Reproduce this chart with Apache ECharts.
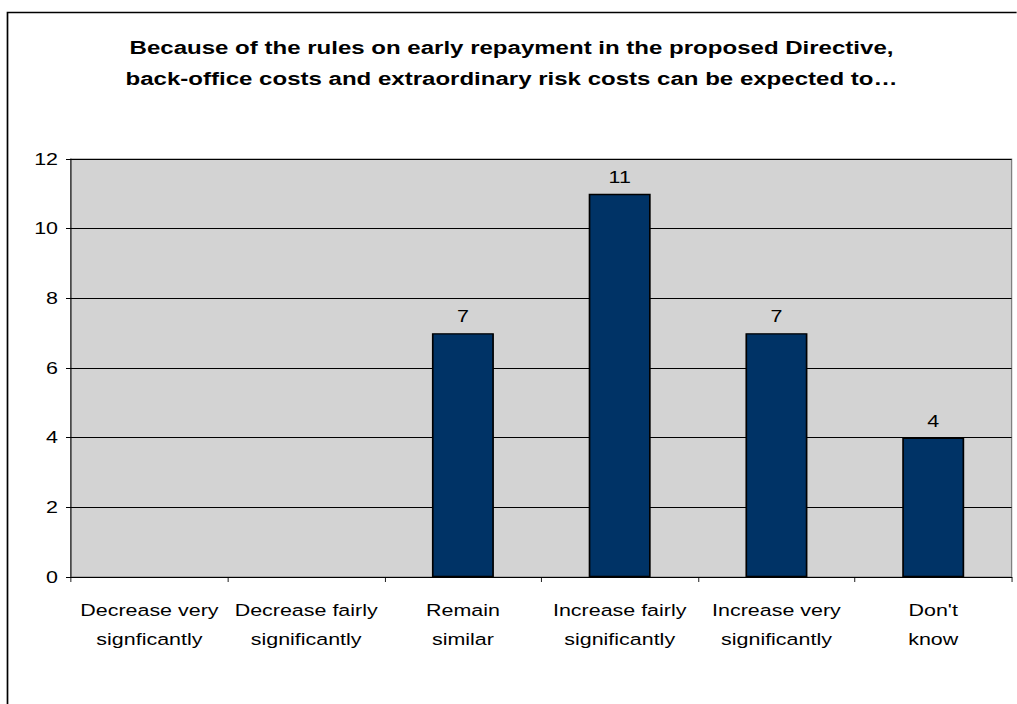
<!DOCTYPE html>
<html>
<head>
<meta charset="utf-8">
<script src="https://cdn.jsdelivr.net/npm/echarts@6/dist/echarts.min.js"></script>
<style>
html,body{margin:0;padding:0;background:#fff;overflow:hidden;}
#wrap{width:1017px;height:704px;overflow:hidden;position:relative;}
#c{width:782.3px;height:704px;transform:scaleX(1.3);transform-origin:0 0;}
</style>
</head>
<body>
<div id="wrap"><div id="c"></div></div>
<script>
const titleLines = ['Because of the rules on early repayment in the proposed Directive,', 'back-office costs and extraordinary risk costs can be expected to\u2026'];
const categories = ['Decrease very\nsignficantly', 'Decrease fairly\nsignificantly', 'Remain\nsimilar', 'Increase fairly\nsignificantly', 'Increase very\nsignificantly', "Don't\nknow"];
const values = [null, null, 7, 11, 7, 4];
const yTicks = { min: 0, max: 12, interval: 2 };

const SX = 1.3; // horizontal stretch of the reference picture
const chart = echarts.init(document.getElementById('c'), null, { renderer: 'svg' });
chart.setOption({
  animation: false,
  backgroundColor: '#ffffff',
  textStyle: { fontFamily: 'Liberation Sans, Arial, sans-serif' },
  title: {
    text: titleLines.join('\n'),
    left: 505 / SX, top: 27, textAlign: 'center',
    textStyle: { fontFamily: 'Liberation Sans, Arial, sans-serif', fontWeight: 'bold', fontSize: 18.5, lineHeight: 31, color: '#000' }
  },
  graphic: [{
    type: 'rect', shape: { x: 7.5 / SX, y: 12.5, width: 1200, height: 900 },
    style: { fill: 'none', stroke: '#000', lineWidth: 1.3 }, z: 100, silent: true
  }],
  grid: { left: 71 / SX, right: 5 / SX, top: 159, bottom: 127, show: true, backgroundColor: '#d3d3d3', borderColor: '#808080', borderWidth: 1 },
  xAxis: {
    type: 'category', data: categories,
    axisLine: { lineStyle: { color: '#000', width: 1 } },
    axisTick: { show: true, length: 5, lineStyle: { color: '#000', width: 1 / SX } },
    axisLabel: { color: '#000', fontSize: 16.5, lineHeight: 29, margin: 19, interval: 0 }
  },
  yAxis: {
    type: 'value', min: yTicks.min, max: yTicks.max, interval: yTicks.interval,
    axisLine: { show: true, lineStyle: { color: '#000', width: 1 / SX } },
    axisTick: { show: true, length: 5 / SX, lineStyle: { color: '#000' } },
    axisLabel: { color: '#000', fontSize: 16.5, margin: 13 / SX },
    splitLine: { show: true, lineStyle: { color: '#000', width: 1 } }
  },
  series: [{
    type: 'bar', data: values, barWidth: 62 / SX,
    itemStyle: { color: '#003366', borderColor: '#000', borderWidth: 1.3 },
    label: { show: true, position: 'top', distance: 8, color: '#000', fontSize: 16.5 }
  }]
});
</script>
</body>
</html>
